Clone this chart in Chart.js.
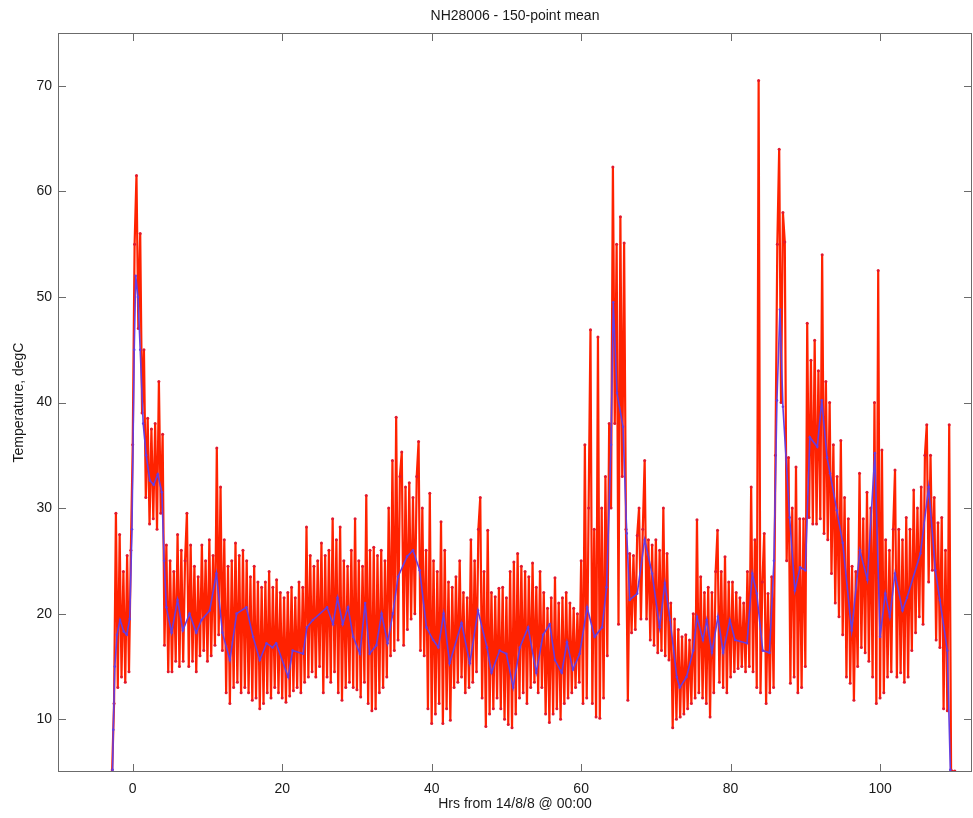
<!DOCTYPE html>
<html>
<head>
<meta charset="utf-8">
<title>NH28006 - 150-point mean</title>
<script src="https://cdn.jsdelivr.net/npm/chart.js@4.4.1/dist/chart.umd.min.js"></script>
<style>
  html, body { margin: 0; padding: 0; background: #fff; }
  #wrap { width: 973px; height: 818px; position: relative; }
</style>
</head>
<body>
<div id="wrap"><canvas id="chart"></canvas></div>
<script>
// Raw logger readings, one every quarter hour starting at -2.75 h
const redStart = -2.75;
const redStep = 0.25;
const redTemps = [
    5.2, 11.5, 29.5,                 // -3
    13.0, 27.5, 14.0, 24.0,          // -2
    13.5, 25.5, 14.5, 26.0,          // -1
    36.0, 55.0, 61.5, 47.0,          // 0
    56.0, 39.0, 45.0, 31.0,
    38.5, 28.5, 37.5, 29.0,
    38.0, 28.0, 42.0, 29.5,
    37.0, 17.0, 26.5, 14.5,
    25.0, 14.5, 24.0, 15.5,          // 5
    27.5, 15.0, 26.0, 15.5,
    25.0, 29.5, 15.0, 26.5,
    15.5, 24.5, 14.5, 23.5,
    16.0, 26.5, 16.5, 25.0,
    15.5, 27.0, 16.0, 25.5,          // 10
    17.0, 35.7, 18.0, 32.0,
    16.5, 27.0, 12.5, 24.5,
    11.5, 25.0, 13.0, 26.7,
    13.5, 25.5, 12.5, 26.0,
    13.0, 25.0, 12.5, 23.5,          // 15
    11.8, 24.5, 12.0, 23.0,
    11.0, 22.5, 11.5, 23.0,
    12.5, 24.0, 12.0, 22.5,
    13.0, 23.2, 12.5, 22.0,
    12.0, 21.5, 11.6, 22.0,          // 20
    12.2, 22.5, 12.7, 21.5,
    13.0, 23.0, 12.5, 22.5,
    13.5, 28.2, 14.0, 25.5,
    14.5, 24.5, 14.0, 25.0,
    15.0, 26.7, 12.5, 25.5,          // 25
    14.0, 26.0, 13.5, 29.0,
    14.5, 27.0, 12.5, 28.2,
    11.8, 25.0, 13.0, 24.5,
    13.5, 26.0, 13.0, 29.0,
    12.8, 25.0, 12.1, 24.5,          // 30
    13.5, 31.2, 11.5, 26.0,
    10.8, 26.3, 11.0, 25.5,
    12.5, 26.0, 13.0, 25.0,
    14.0, 30.0, 16.0, 34.5,
    16.5, 38.6, 17.5, 33.0,          // 35
    35.3, 17.0, 32.0, 18.5,
    32.4, 19.5, 31.0, 20.0,
    33.0, 36.3, 16.5, 30.0,
    16.0, 26.0, 11.0, 31.4,
    9.6, 25.0, 10.5, 24.0,           // 40
    11.5, 28.7, 9.6, 26.0,
    11.0, 23.0, 9.9, 22.5,
    13.0, 23.5, 13.5, 25.0,
    14.0, 22.0, 12.5, 21.5,
    13.0, 27.0, 13.5, 25.0,          // 45
    14.5, 28.0, 31.0, 12.0,
    24.0, 9.3, 27.9, 10.5,
    22.0, 11.0, 21.6, 12.0,
    22.4, 11.0, 22.5, 10.0,
    21.5, 9.5, 24.0, 9.2,            // 50
    24.9, 10.5, 25.7, 12.0,
    24.5, 12.5, 24.0, 11.5,
    23.5, 13.0, 24.8, 13.5,
    22.5, 12.5, 24.0, 13.0,
    22.0, 10.5, 20.5, 9.7,           // 55
    21.5, 10.5, 23.4, 11.0,
    21.0, 10.0, 21.5, 11.5,
    22.0, 12.0, 21.0, 12.5,
    20.5, 13.0, 20.0, 13.5,
    25.0, 11.5, 36.0, 12.0,          // 60
    30.0, 46.9, 11.5, 28.0,
    10.2, 46.2, 10.1, 30.0,
    12.0, 33.0, 16.0, 38.0,
    30.0, 62.3, 38.0, 55.0,
    19.0, 57.6, 33.0, 55.1,          // 65
    28.0, 11.8, 25.7, 18.2,
    25.5, 18.5, 27.4, 30.0,
    19.5, 28.0, 34.5, 19.5,
    27.0, 17.5, 26.5, 17.0,
    27.0, 16.3, 26.0, 16.5,          // 70
    30.0, 16.0, 25.7, 15.6,
    21.0, 9.2, 19.5, 10.0,
    18.5, 10.2, 17.8, 10.5,
    18.0, 11.0, 17.5, 11.5,
    20.0, 12.0, 28.9, 12.5,          // 75
    23.5, 12.0, 22.0, 11.5,
    22.5, 10.2, 22.0, 12.5,
    24.0, 27.9, 13.5, 24.0,
    13.0, 25.4, 12.5, 23.0,
    14.0, 23.0, 14.5, 22.0,          // 80
    14.8, 21.5, 15.0, 21.0,
    14.5, 24.0, 15.0, 32.0,
    14.5, 27.0, 13.0, 70.5,
    12.5, 23.0, 27.6, 11.5,
    21.9, 12.5, 23.5, 13.0,          // 85
    35.0, 55.0, 64.0, 40.0,
    58.0, 55.2, 25.0, 34.8,
    13.4, 30.0, 14.0, 33.9,
    12.5, 29.0, 13.0, 29.0,
    15.0, 47.5, 29.1, 44.0,          // 90
    28.5, 45.9, 28.5, 43.0,
    29.0, 54.0, 27.6, 42.0,
    27.0, 40.0, 23.8, 36.0,
    21.0, 33.0, 19.7, 36.4,
    18.0, 31.0, 14.0, 29.0,          // 95
    13.4, 24.5, 11.8, 24.0,
    15.0, 33.3, 16.8, 29.0,
    16.3, 31.5, 15.5, 30.0,
    14.0, 40.0, 11.5, 52.5,
    12.0, 35.5, 12.5, 27.0,          // 100
    14.0, 26.0, 14.5, 28.0,
    33.6, 14.0, 28.0, 14.4,
    27.0, 13.5, 29.1, 14.0,
    28.0, 16.5, 31.7, 18.2,
    30.0, 19.7, 32.0, 19.0,          // 105
    35.0, 37.9, 23.0, 35.0,
    24.1, 31.0, 17.5, 28.6,
    16.8, 29.1, 11.0, 26.0,
    10.8, 37.9, 5.2, 5.0,
    5.1                              // 110
];

// 150-point running mean
const meanHrs = [
    -2.7, -2.6, -2.4, -2.1, -1.7, -1.2, -0.8, -0.4, -0.1, 0.2, 0.4, 0.7, 1.0, 1.4, 1.8,
    2.3, 2.8, 3.35, 3.9, 4.2, 4.5, 5.2, 6.0, 6.7, 7.6, 8.5, 9.2, 10.3, 11.2, 12.0,
    13.0, 13.9, 15.2, 16.1, 17.0, 17.9, 18.7, 19.2, 20.8, 21.4, 22.8, 23.3, 24.1, 26.0, 26.8,
    27.4, 28.1, 28.8, 29.5, 30.4, 31.1, 31.7, 32.6, 33.3, 34.1, 34.8, 35.5, 36.7, 37.5, 38.4,
    39.3, 40.2, 40.9, 41.6, 42.4, 44.0, 45.1, 46.2, 47.4, 48.0, 49.1, 50.0, 50.9, 51.8, 52.9,
    54.0, 54.9, 55.8, 56.5, 57.4, 58.1, 58.9, 59.8, 60.8, 61.8, 62.8, 63.4, 64.0, 64.3, 64.8,
    65.6, 66.1, 66.5, 67.5, 68.5, 69.5, 70.5, 71.2, 71.9, 72.8, 73.2, 74.1, 75.0, 75.5, 76.3,
    76.8, 77.5, 78.3, 79.0, 79.9, 80.6, 82.2, 82.9, 83.5, 84.3, 85.2, 85.8, 86.2, 86.6, 87.0,
    87.9, 88.6, 89.3, 90.0, 90.6, 91.6, 92.2, 92.9, 93.3, 94.2, 95.0, 96.2, 97.3, 98.3, 99.3,
    100.0, 100.7, 101.3, 102.0, 103.0, 103.6, 105.4, 106.5, 107.4, 108.0, 109.0, 109.4
];
const meanTemps = [
    5.2, 9.0, 15.0, 18.0, 19.4, 18.3, 18.0, 19.5, 28.0, 45.0, 52.0, 50.0, 45.0, 38.0, 35.0,
    32.6, 32.2, 33.2, 31.5, 25.0, 20.6, 18.2, 21.3, 18.4, 20.0, 18.2, 19.4, 20.3, 23.8, 18.2,
    15.6, 20.0, 20.6, 17.8, 15.6, 17.2, 16.8, 17.2, 14.0, 16.5, 16.2, 18.7, 19.4, 20.6, 19.0,
    21.5, 19.0, 20.6, 17.8, 16.2, 21.0, 16.2, 17.0, 20.0, 17.2, 20.0, 23.5, 25.4, 26.0, 24.1,
    18.7, 17.5, 16.8, 20.0, 15.3, 19.1, 15.3, 20.3, 16.8, 14.4, 16.5, 16.2, 13.0, 16.8, 18.7,
    14.4, 18.0, 19.0, 15.6, 14.4, 17.3, 14.7, 16.2, 20.6, 17.8, 18.7, 22.5, 36.0, 49.5, 40.9,
    37.7, 27.6, 21.3, 21.9, 27.0, 23.8, 18.7, 22.9, 19.4, 14.0, 13.0, 14.0, 16.5, 19.7, 17.5,
    19.4, 16.3, 19.7, 16.3, 19.4, 17.5, 17.2, 23.8, 21.9, 16.5, 16.3, 25.0, 40.2, 48.8, 39.6,
    29.1, 22.2, 24.4, 24.1, 36.7, 35.8, 40.2, 34.8, 33.3, 29.8, 26.7, 18.4, 26.0, 23.2, 35.2,
    17.8, 21.9, 19.7, 23.8, 20.3, 21.5, 25.7, 32.0, 24.1, 21.3, 16.5, 5.2
];

const xTickValues = [0, 20, 40, 60, 80, 100];
const yTickValues = [10, 20, 30, 40, 50, 60, 70];

const chartTitle = 'NH28006 - 150-point mean';
const xTitle = 'Hrs from 14/8/8 @ 00:00';
const yTitle = 'Temperature, degC';

const FONT = '"Liberation Sans", Arial, Helvetica, sans-serif';

const redPoints = redTemps.map((v, i) => ({ x: redStart + i * redStep, y: v }));
const meanPoints = meanHrs.map((h, i) => ({ x: h, y: meanTemps[i] }));

// matlab-ish box: frame, inward ticks on all sides, title and axis labels
const boxPlugin = {
    id: 'box',
    afterDraw(chart) {
        const { ctx, chartArea: a, scales } = chart;
        const tick = 8;
        ctx.save();
        ctx.strokeStyle = '#6b6b6b';
        ctx.lineWidth = 1;
        ctx.strokeRect(a.left + 0.5, a.top + 0.5, a.right - a.left - 1, a.bottom - a.top - 1);
        ctx.beginPath();
        xTickValues.forEach(v => {
            const px = Math.round(scales.x.getPixelForValue(v)) + 0.5;
            ctx.moveTo(px, a.bottom); ctx.lineTo(px, a.bottom - tick);
            ctx.moveTo(px, a.top); ctx.lineTo(px, a.top + tick);
        });
        yTickValues.forEach(v => {
            const py = Math.round(scales.y.getPixelForValue(v)) + 0.5;
            ctx.moveTo(a.left, py); ctx.lineTo(a.left + tick, py);
            ctx.moveTo(a.right, py); ctx.lineTo(a.right - tick, py);
        });
        ctx.stroke();

        ctx.fillStyle = '#1a1a1a';
        ctx.font = '14px ' + FONT;
        ctx.textAlign = 'center';
        ctx.textBaseline = 'middle';
        const cx = (a.left + a.right) / 2;
        ctx.fillText(chartTitle, cx, 16);
        ctx.fillText(xTitle, cx, 804);
        ctx.translate(19, (a.top + a.bottom) / 2);
        ctx.rotate(-Math.PI / 2);
        ctx.fillText(yTitle, 0, 0);
        ctx.restore();
    }
};

new Chart(document.getElementById('chart'), {
    type: 'scatter',
    data: {
        datasets: [
            {
                label: '150-point mean',
                data: meanPoints,
                showLine: true,
                borderColor: 'rgb(100, 62, 225)',
                backgroundColor: 'rgb(100, 62, 225)',
                borderWidth: 1.6,
                pointRadius: 1.3,
                pointBorderWidth: 0,
                order: 1
            },
            {
                label: 'NH28006',
                data: redPoints,
                showLine: true,
                borderColor: 'rgb(255, 34, 0)',
                backgroundColor: 'rgb(225, 25, 45)',
                borderWidth: 2.2,
                pointRadius: 1.5,
                pointBorderWidth: 0,
                order: 2
            }
        ]
    },
    options: {
        responsive: true,
        maintainAspectRatio: false,
        animation: false,
        layout: { autoPadding: false, padding: { top: 33, right: 1, left: 0, bottom: 0 } },
        plugins: {
            legend: { display: false },
            tooltip: { enabled: false },
            title: { display: false }
        },
        scales: {
            x: {
                type: 'linear',
                min: -10,
                max: 112.3,
                grid: { display: false, drawTicks: false },
                border: { display: false },
                ticks: {
                    stepSize: 20,
                    padding: 9,
                    color: '#1a1a1a',
                    font: { family: FONT, size: 14 }
                },
                afterBuildTicks: s => { s.ticks = xTickValues.map(v => ({ value: v })); },
                afterFit: s => { s.height = 46; s.paddingLeft = 0; s.paddingRight = 0; }
            },
            y: {
                type: 'linear',
                min: 5,
                max: 75,
                grid: { display: false, drawTicks: false },
                border: { display: false },
                ticks: {
                    stepSize: 10,
                    padding: 6,
                    color: '#1a1a1a',
                    font: { family: FONT, size: 14 }
                },
                afterBuildTicks: s => { s.ticks = yTickValues.map(v => ({ value: v })); },
                afterFit: s => { s.width = 58; s.paddingTop = 0; s.paddingBottom = 0; }
            }
        }
    },
    plugins: [boxPlugin]
});
</script>
</body>
</html>
